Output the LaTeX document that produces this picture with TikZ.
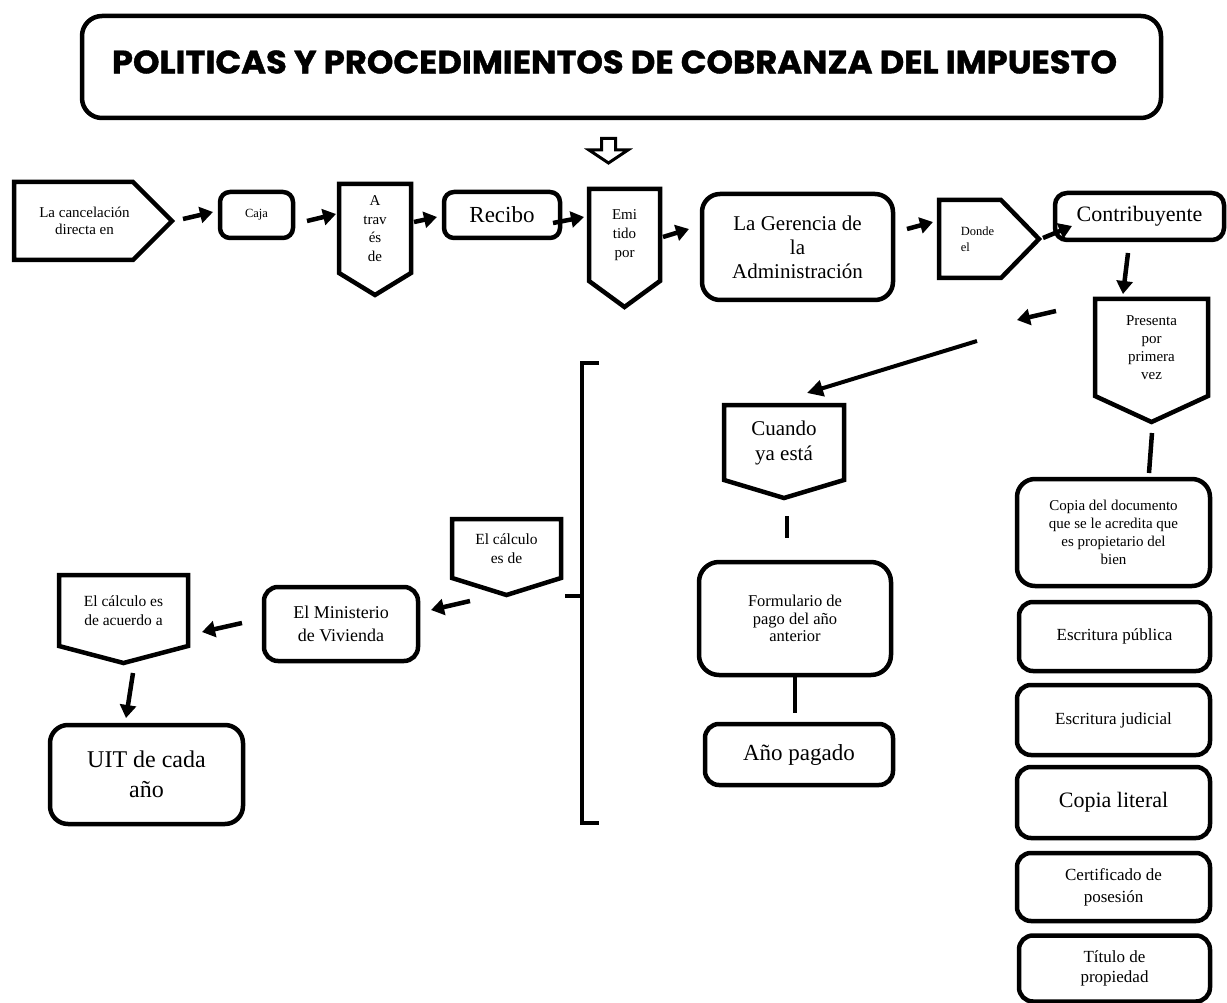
\documentclass[tikz,border=0pt]{standalone}
\usepackage{graphicx}
\usepackage{fontspec}
\setmainfont{Liberation Serif}
\newfontfamily\titulofont{Poppins}[BoldFeatures={FakeBold=1.2}]
\usetikzlibrary{arrows.meta,calc}
\tikzset{
  borde/.style={line width=4.5pt, line join=miter},
  caja/.style={draw, line width=4.5pt, rounded corners=14pt, align=center, inner sep=0pt, outer sep=0pt},
  etiq/.style={align=center, inner sep=0pt, outer sep=0pt},
  flecha/.style={line width=4.5pt, -{Triangle[length=13pt,width=16pt]}},
  flechafina/.style={line width=4pt, -{Triangle[length=16pt,width=16pt]}},
  linea/.style={line width=4.5pt}
}
\begin{document}
\begin{tikzpicture}[x=1pt,y=-1pt]
\useasboundingbox (0,0) rectangle (1227,1003);

\node[caja, rounded corners=20pt, minimum width=1079pt, minimum height=102pt] (titulo) at (621.5,67) {};
\node[inner sep=0pt] (tituloTxt) at ($(titulo.center)+(-7,-5)$)
  {\resizebox{1005pt}{23pt}{\titulofont\bfseries POLITICAS Y PROCEDIMIENTOS DE COBRANZA DEL IMPUESTO}};
\draw[line width=3pt] (601.5,138.5) -- (615.5,138.5) -- (615.5,150) -- (628,150) -- (608.5,163) -- (589,150) -- (601.5,150) -- cycle;

% fila de arriba
\node[etiq, minimum width=141pt, minimum height=78pt, font=\fontsize{15}{17}\selectfont] (cancel) at (84.5,221) {La cancelación\\directa en};
\node[caja, minimum width=73pt, minimum height=46pt, rounded corners=10pt, font=\fontsize{12.5}{15}\selectfont] (caja) at (256.5,215) {Caja};
\node[etiq, minimum width=72pt, minimum height=89pt, font=\fontsize{15}{18.5}\selectfont] (traves) at (375,228.5) {A\\trav\\és\\de};
\node[caja, minimum width=116pt, minimum height=46pt, rounded corners=10pt, font=\fontsize{23}{27}\selectfont] (recibo) at (502,215) {Recibo};
\node[etiq, minimum width=71pt, minimum height=92pt, font=\fontsize{15}{19}\selectfont] (emitido) at (624.5,235) {Emi\\tido\\por};
\node[caja, minimum width=191pt, minimum height=106pt, rounded corners=18pt, font=\fontsize{21}{24}\selectfont] (gerencia) at (797.5,247) {La Gerencia de\\la\\Administración};
\node[etiq, align=left, minimum width=77pt, minimum height=78pt, font=\fontsize{12.5}{16}\selectfont] (donde) at (977.5,239) {Donde\\el};
\node[caja, minimum width=169pt, minimum height=47pt, rounded corners=12pt, font=\fontsize{22}{26}\selectfont] (contrib) at (1139.5,216.5) {Contribuyente};
\node[etiq, minimum width=113pt, minimum height=97pt, font=\fontsize{15}{18}\selectfont] (presenta) at (1151.5,347.5) {Presenta\\por\\primera\\vez};

% centro
\node[etiq, minimum width=120pt, minimum height=75pt, font=\fontsize{21}{25}\selectfont] (cuando) at (784,442.5) {Cuando\\ya está};
\node[caja, minimum width=192pt, minimum height=113pt, rounded corners=20pt, font=\fontsize{16.5}{17.5}\selectfont] (formulario) at (795,618.5) {Formulario de\\pago del año\\anterior};
\node[caja, minimum width=188pt, minimum height=61pt, font=\fontsize{23}{27}\selectfont] (anio) at (799,754.5) {Año pagado};

% izquierda
\node[etiq, minimum width=109pt, minimum height=59pt, font=\fontsize{15.5}{19}\selectfont] (calculo) at (506.5,548.5) {El cálculo\\es de};
\node[caja, minimum width=154pt, minimum height=74pt, font=\fontsize{18}{23}\selectfont] (ministerio) at (341,624) {El Ministerio\\de Vivienda};
\node[etiq, minimum width=129pt, minimum height=71pt, font=\fontsize{15.5}{19}\selectfont] (acuerdo) at (123.5,610.5) {El cálculo es\\de acuerdo a};
\node[caja, minimum width=193pt, minimum height=99pt, rounded corners=18pt, font=\fontsize{24}{30}\selectfont] (uit) at (146.5,774.5) {UIT de cada\\año};

% columna derecha
\node[caja, minimum width=193pt, minimum height=107pt, rounded corners=18pt, font=\fontsize{15}{18}\selectfont] (copia) at (1113.5,532.5) {Copia del documento\\que se le acredita que\\es propietario del\\bien};
\node[caja, minimum width=191pt, minimum height=69pt, font=\fontsize{17}{20}\selectfont] (publica) at (1114.5,636.5) {Escritura pública};
\node[caja, minimum width=193pt, minimum height=70pt, font=\fontsize{17}{20}\selectfont] (judicial) at (1113.5,720) {Escritura judicial};
\node[caja, minimum width=193pt, minimum height=71pt, font=\fontsize{22}{26}\selectfont] (literal) at (1113.5,802.5) {Copia literal};
\node[caja, minimum width=193pt, minimum height=68pt, font=\fontsize{17}{22}\selectfont] (certificado) at (1113.5,887) {Certificado de\\posesión};
\node[caja, minimum width=191pt, minimum height=66pt, font=\fontsize{17}{20}\selectfont] (tituloProp) at (1114.5,968.5) {Título de\\propiedad};

% contornos con punta
\foreach \n/\d in {traves/22,emitido/26,presenta/26,cuando/18,calculo/17,acuerdo/17}
  \draw[borde] (\n.south west) -- (\n.north west) -- (\n.north east) -- (\n.south east) -- ([yshift=-\d pt]\n.south) -- cycle;
\foreach \n/\a/\b in {cancel/22/17,donde/15/23}
  \draw[borde] (\n.north west) -- ([xshift=-\a pt]\n.north east) -- ([xshift=\b pt]\n.east) -- ([xshift=-\a pt]\n.south east) -- (\n.south west) -- cycle;

% llave
\draw[line width=4pt] (599,363) -- (582,363) -- (582,823) -- (599,823);
\draw[line width=4pt] (582,596) -- (565,596);

\coordinate (suelto) at (1017,320);
\coordinate (inicio) at (977,341);

\draw[flecha] ($(cancel.east)+(28,-2)$) -- ($(caja.west)+(-7,-3)$);
\draw[flecha] ($(caja.east)+(14,6)$) -- ($(traves.west)+(-3,-14.5)$);
\draw[flecha] ($(traves.east)+(3,-6.5)$) -- ($(recibo.west)+(-7,2)$);
\draw[flecha] ($(recibo.east)+(-7,8)$) -- ($(emitido.west)+(-5,-18)$);
\draw[flecha] ($(emitido.east)+(3,2)$) -- ($(gerencia.west)+(-13,-18)$);
\draw[flecha] ($(gerencia.east)+(14,-18)$) -- ($(donde.west)+(-6,-17)$);
\draw[flecha] ($(donde.east)+(27,-1)$) -- ($(contrib.west)+(17,9.5)$);
\draw[flecha] ($(contrib.south)+(-11.5,13)$) -- ($(presenta.north)+(-28.5,-5)$);
\draw[flecha] ($(presenta.west)+(-39,-36.5)$) -- (suelto);
\draw[flechafina] (inicio) -- ($(cuando.north)+(23,-12)$);
\draw[linea] ($(presenta.south)+(0.5,37)$) -- ($(copia.north)+(35.5,-6)$);
\draw[linea] ($(cuando.south)+(3,36)$) -- ($(formulario.north)+(-8,-24)$);
\draw[linea] (formulario.south) -- ($(anio.north)+(-4,-11)$);
\draw[flecha] ($(calculo.south)+(-36.5,23)$) -- ($(ministerio.east)+(13,-14)$);
\draw[flecha] ($(ministerio.west)+(-22,-1)$) -- ($(acuerdo.east)+(14,21.5)$);
\draw[flecha] ($(acuerdo.south)+(9.5,27)$) -- ($(uit.north)+(-20.5,-7)$);
\end{tikzpicture}
\end{document}
